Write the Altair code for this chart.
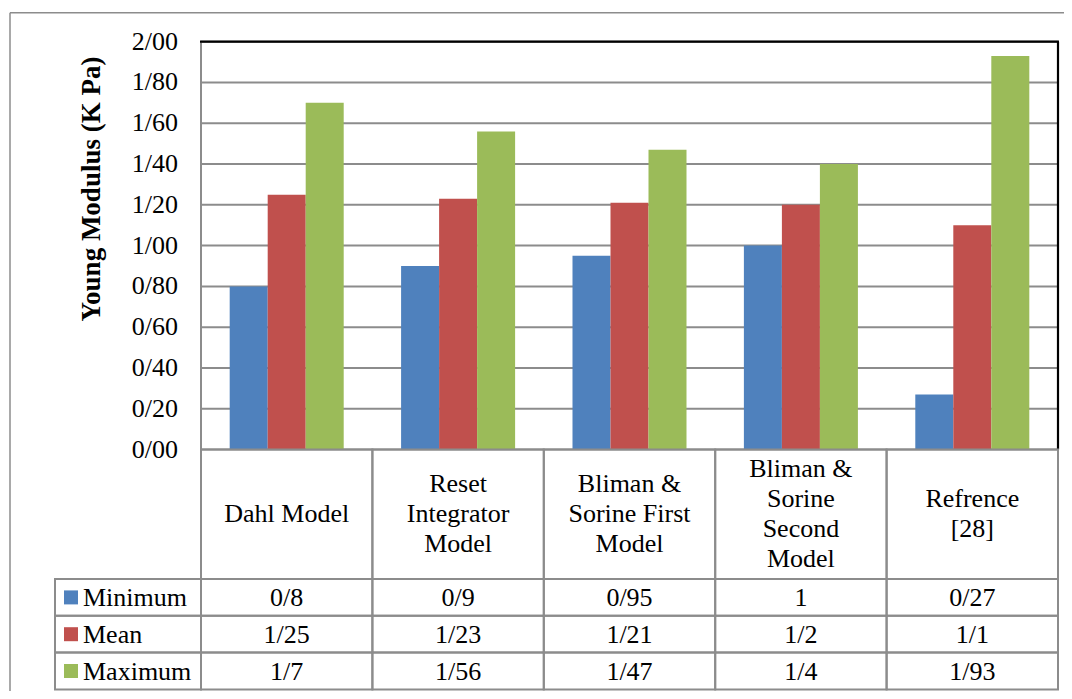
import altair as alt
import pandas as pd

# ---------------- data ----------------
categories = ["Dahl Model", "Reset Integrator Model", "Bliman & Sorine First Model",
              "Bliman & Sorine Second Model", "Refrence [28]"]
header_labels = ["Dahl Model", "Reset\nIntegrator\nModel", "Bliman &\nSorine First\nModel",
                 "Bliman &\nSorine\nSecond\nModel", "Refrence\n[28]"]
series = ["Minimum", "Mean", "Maximum"]
minimum = [0.8, 0.9, 0.95, 1.0, 0.27]
mean = [1.25, 1.23, 1.21, 1.2, 1.1]
maximum = [1.7, 1.56, 1.47, 1.4, 1.93]
colors = ["#4F81BD", "#C0504D", "#9BBB59"]
y_ticks = [0.0, 0.2, 0.4, 0.6, 0.8, 1.0, 1.2, 1.4, 1.6, 1.8, 2.0]
y_tick_labels = ["0/00", "0/20", "0/40", "0/60", "0/80", "1/00", "1/20", "1/40", "1/60", "1/80", "2/00"]
y_title = "Young Modulus (K Pa)"

# ---------------- layout (pixels inside the svg) ----------------
W, H = 1056, 683
PLOT_L, PLOT_R = 193, 1050
Y0_PX, PX_PER_UNIT = 441.5, 203.9
HEADER_BOTTOM_PX = 571
ROW_H_PX = 36.8
LEG_L = 47
FONT = "Times New Roman, Liberation Serif, serif"
FS = 26
LINE_H = 30
GRID = "#8c8c8c"


def v(py):
    return (Y0_PX - py) / PX_PER_UNIT


yscale = alt.Scale(domain=[v(H), v(0)], nice=False, zero=False)
xscale = alt.Scale(domain=categories, range=[PLOT_L, PLOT_R], paddingInner=0, paddingOuter=0)

values_by_series = {"Minimum": minimum, "Mean": mean, "Maximum": maximum}
bars_rows = []
for s in series:
    for c, val in zip(categories, values_by_series[s]):
        bars_rows.append({"cat": c, "series": s, "value": val})
bars_df = pd.DataFrame(bars_rows)


def fmt(x):
    return f"{x:g}".replace(".", "/")


# table geometry in data units
header_top = v(Y0_PX)
header_bot = v(HEADER_BOTTOM_PX)
row_bounds = [v(HEADER_BOTTOM_PX + i * ROW_H_PX) for i in range(4)]

cells = []
for c in categories:
    cells.append({"cat": c, "top": header_top, "bot": header_bot})
    for i in range(len(series)):
        cells.append({"cat": c, "top": row_bounds[i], "bot": row_bounds[i + 1]})
cells_df = pd.DataFrame(cells)

header_mid = (header_top + header_bot) / 2
header_df = pd.DataFrame({
    "cat": categories,
    "label": header_labels,
    # first line position so that the whole block is centred in the header cell
    "y": [header_mid + (lbl.count("\n")) * LINE_H / 2 / PX_PER_UNIT for lbl in header_labels],
})

vals = []
for i, s in enumerate(series):
    for c, val in zip(categories, values_by_series[s]):
        vals.append({"cat": c, "label": fmt(val), "y": (row_bounds[i] + row_bounds[i + 1]) / 2})
vals_df = pd.DataFrame(vals)

legend_df = pd.DataFrame({
    "series": series,
    "top": row_bounds[:3],
    "bot": row_bounds[1:],
    "y": [(row_bounds[i] + row_bounds[i + 1]) / 2 for i in range(3)],
})

grid_df = pd.DataFrame({"y": y_ticks})
ticks_df = pd.DataFrame({"y": y_ticks, "label": y_tick_labels})
top_df = pd.DataFrame({"y": [y_ticks[-1]], "y2": [y_ticks[0]]})
title_df = pd.DataFrame({"label": [y_title]})

color_scale = alt.Scale(domain=series, range=colors)

# ---------------- layers ----------------
outer_left = alt.Chart(top_df).mark_rule(color=GRID, strokeWidth=1.5).encode(
    x=alt.value(2), y=alt.value(4.7), y2=alt.value(H))
outer_top = alt.Chart(top_df).mark_rule(color=GRID, strokeWidth=1.5).encode(
    x=alt.value(2), x2=alt.value(W), y=alt.value(4.7))

grid = alt.Chart(grid_df).mark_rule(color=GRID, strokeWidth=2).encode(
    y=alt.Y("y:Q", scale=yscale, axis=None), x=alt.value(PLOT_L), x2=alt.value(PLOT_R))

tick_labels = alt.Chart(ticks_df).mark_text(
    font=FONT, fontSize=FS, color="black", align="right", baseline="middle"
).encode(y=alt.Y("y:Q", scale=yscale, axis=None), x=alt.value(PLOT_L - 23), text="label:N")

y_title_text = alt.Chart(title_df).mark_text(
    font=FONT, fontSize=27, fontWeight="bold", color="black", angle=270,
    align="center", baseline="middle"
).encode(x=alt.value(84), y=alt.value(181), text="label:N")

bars = alt.Chart(bars_df).mark_bar().encode(
    x=alt.X("cat:N", scale=xscale, axis=None, sort=categories),
    xOffset=alt.XOffset("series:N", sort=series,
                        scale=alt.Scale(domain=series, paddingOuter=0.755, paddingInner=0)),
    y=alt.Y("value:Q", scale=yscale, axis=None),
    color=alt.Color("series:N", scale=color_scale, legend=None),
)

plot_top = alt.Chart(top_df).mark_rule(color="black", strokeWidth=2.2).encode(
    y=alt.Y("y:Q", scale=yscale, axis=None), x=alt.value(PLOT_L - 1), x2=alt.value(PLOT_R + 1))
plot_right = alt.Chart(top_df).mark_rule(color="black", strokeWidth=2.2).encode(
    y=alt.Y("y:Q", scale=yscale, axis=None), y2="y2:Q", x=alt.value(PLOT_R))
plot_left = alt.Chart(top_df).mark_rule(color=GRID, strokeWidth=2).encode(
    y=alt.Y("y:Q", scale=yscale, axis=None), y2="y2:Q", x=alt.value(PLOT_L))

cells_layer = alt.Chart(cells_df).mark_rect(fillOpacity=0, stroke=GRID, strokeWidth=2).encode(
    x=alt.X("cat:N", scale=xscale, axis=None, sort=categories),
    y=alt.Y("top:Q", scale=yscale, axis=None), y2="bot:Q")

header_text = alt.Chart(header_df).mark_text(
    font=FONT, fontSize=FS, lineBreak="\n", lineHeight=LINE_H, color="black", baseline="middle"
).encode(x=alt.X("cat:N", scale=xscale, axis=None, sort=categories),
         y=alt.Y("y:Q", scale=yscale, axis=None), text="label:N")

vals_text = alt.Chart(vals_df).mark_text(
    font=FONT, fontSize=FS, color="black", baseline="middle", dy=1
).encode(x=alt.X("cat:N", scale=xscale, axis=None, sort=categories),
         y=alt.Y("y:Q", scale=yscale, axis=None), text="label:N")

legend_cells = alt.Chart(legend_df).mark_rect(fillOpacity=0, stroke=GRID, strokeWidth=2).encode(
    x=alt.value(LEG_L), x2=alt.value(PLOT_L),
    y=alt.Y("top:Q", scale=yscale, axis=None), y2="bot:Q")

legend_sq = alt.Chart(legend_df).mark_square(size=196, opacity=1).encode(
    x=alt.value(63), y=alt.Y("y:Q", scale=yscale, axis=None),
    color=alt.Color("series:N", scale=color_scale, legend=None))

legend_text = alt.Chart(legend_df).mark_text(
    font=FONT, fontSize=FS, color="black", align="left", baseline="middle", dy=1
).encode(x=alt.value(75), y=alt.Y("y:Q", scale=yscale, axis=None), text="series:N")

chart = alt.layer(
    grid, outer_left, outer_top, tick_labels, y_title_text, bars, plot_left, plot_top, plot_right,
    cells_layer, header_text, vals_text, legend_cells, legend_sq, legend_text
).properties(
    width=W, height=H, padding=0,
    autosize=alt.AutoSizeParams(type="none"),
    background="white",
).configure_view(stroke=None)

chart.save("out.html", embed_options={"renderer": "svg", "actions": False})
